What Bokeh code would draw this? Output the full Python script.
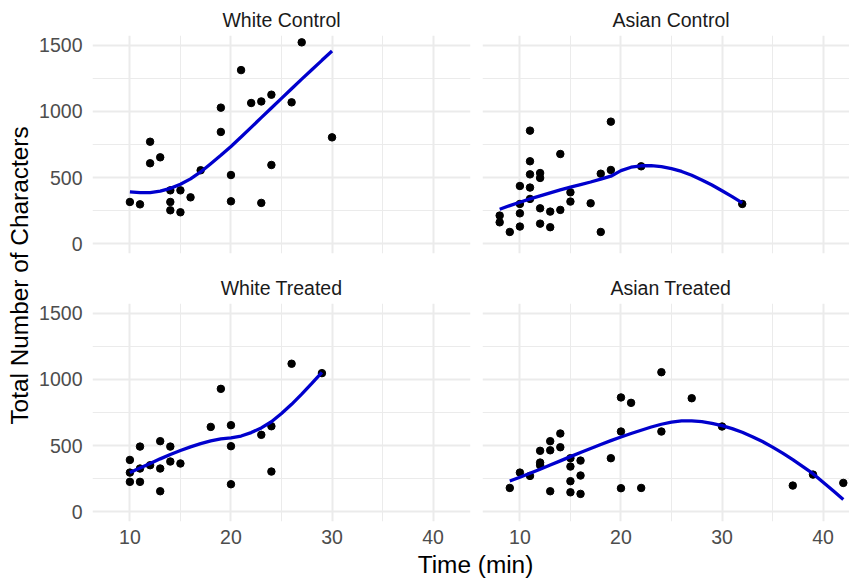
import math
from bokeh.plotting import figure
from bokeh.layouts import row, column
from bokeh.models import Range1d, Grid, FixedTicker, Label
from bokeh.embed import file_html
from bokeh.resources import INLINE

# ---------------- data ----------------
panel_names = ["White Control", "Asian Control", "White Treated", "Asian Treated"]

wc_time = [10, 11, 12, 12, 13, 14, 14, 14, 15, 15, 16, 17, 19, 19, 20, 20, 21, 22, 23, 23, 24, 24, 26, 27, 30]
wc_chars = [315, 297, 771, 608, 653, 403, 315, 252, 403, 237, 350, 555, 1029, 845, 519, 320, 1313, 1064, 1076, 308, 1127, 595, 1069, 1523, 804]

ac_time = [8, 8, 9, 10, 10, 10, 10, 11, 11, 11, 11, 11, 12, 12, 12, 12, 13, 13, 14, 14, 15, 15, 17, 18, 18, 19, 19, 22, 32]
ac_chars = [212, 161, 88, 436, 300, 229, 129, 855, 623, 524, 424, 338, 534, 497, 267, 151, 242, 124, 678, 255, 388, 318, 305, 529, 88, 923, 557, 585, 300]

wt_time = [10, 10, 10, 11, 11, 11, 12, 13, 13, 13, 14, 14, 15, 18, 19, 20, 20, 20, 23, 24, 24, 26, 29]
wt_chars = [391, 295, 225, 492, 326, 225, 351, 533, 326, 154, 492, 379, 364, 641, 929, 654, 495, 207, 581, 646, 303, 1119, 1048]

at_time = [9, 10, 11, 12, 12, 12, 13, 13, 13, 14, 14, 15, 15, 15, 15, 16, 16, 16, 19, 20, 20, 20, 21, 22, 24, 24, 27, 30, 37, 39, 42]
at_chars = [179, 295, 270, 460, 371, 351, 533, 464, 154, 591, 487, 404, 341, 230, 146, 386, 273, 134, 404, 864, 606, 177, 823, 179, 1055, 606, 858, 644, 197, 280, 217]

# smoothed (loess) curves
wc_fit_time = [10, 11, 12, 13, 14, 15, 16, 17, 18, 19, 20, 21, 22, 23, 24, 25, 26, 27, 28, 29, 30]
wc_fit_chars = [391, 386, 386, 397, 418, 449, 490, 542, 605, 668, 735, 807, 880, 953, 1026, 1099, 1172, 1245, 1316, 1387, 1457]

ac_fit_time = [8, 9, 10, 11, 12, 13, 14, 15, 16, 17, 18, 19, 20, 21, 22, 23, 24, 25, 26, 27, 28, 29, 30, 31, 32]
ac_fit_chars = [260, 287, 313, 338, 361, 384, 406, 427, 447, 466, 488, 510, 552, 578, 589, 590, 583, 568, 546, 517, 482, 443, 400, 355, 308]

wt_fit_time = [10, 11, 12, 13, 14, 15, 16, 17, 18, 19, 20, 21, 22, 23, 24, 25, 26, 27, 28, 29]
wt_fit_chars = [295, 330, 364, 399, 432, 462, 490, 514, 535, 551, 558, 572, 598, 633, 680, 742, 812, 889, 970, 1053]

at_fit_time = [9, 10, 11, 12, 13, 14, 15, 16, 17, 18, 19, 20, 21, 22, 23, 24, 25, 26, 27, 28, 29, 30, 31, 32, 33, 34, 35, 36, 37, 38, 39, 40, 41, 42]
at_fit_chars = [232, 260, 290, 320, 352, 384, 416, 447, 478, 508, 537, 565, 591, 616, 640, 661, 677, 686, 687, 681, 668, 651, 628, 600, 567, 530, 488, 442, 393, 341, 287, 222, 157, 92]

x_major = [10, 20, 30, 40]
x_minor = [15, 25, 35]
y_major = [0, 500, 1000, 1500]
y_minor = [250, 750, 1250]

# ---------------- style ----------------
FONT = "Liberation Sans"
GRID = "#EBEBEB"
LINE = "#0000CD"
X0, X1 = 6.3, 43.7
Y0, Y1 = -75, 1575
YLAB_W = 36
FRAME_W = 378
FRAME_W_RIGHT = 367   # right column is cut by the window edge
X1_RIGHT = X0 + FRAME_W_RIGHT * (X1 - X0) / FRAME_W
STRIP_PX = 19.5
# horizontal position (from frame left) of the right-column strip texts,
# centred on the full facet width as in the reference
RIGHT_STRIP_LEFT = {"Asian Control": 130, "Asian Treated": 128}


def make_panel(name, xs, ys, fx, fy, left, bottom):
    w = (62 - (YLAB_W - 30)) + FRAME_W + 6 if left else 6 + FRAME_W_RIGHT
    top_b = 35
    bot_b = 15 if not bottom else 28
    h = top_b + 218 + bot_b
    p = figure(width=w, height=h,
               x_range=Range1d(X0, X1 if left else X1_RIGHT),
               y_range=Range1d(Y0, Y1),
               x_axis_location="below" if bottom else None,
               y_axis_location="left" if left else None,
               output_backend="svg", toolbar_location=None,
               min_border_left=(62 - (YLAB_W - 30)) if left else 6,
               min_border_right=6 if left else 0,
               min_border_top=top_b, min_border_bottom=bot_b)
    p.outline_line_color = None
    p.background_fill_color = "white"
    p.border_fill_color = "white"
    p.center = []
    xt = FixedTicker(ticks=x_major, minor_ticks=x_minor)
    yt = FixedTicker(ticks=y_major, minor_ticks=y_minor)
    for dim, t in ((0, xt), (1, yt)):
        g = Grid(dimension=dim, ticker=t,
                 grid_line_color=GRID, grid_line_width=2,
                 minor_grid_line_color=GRID, minor_grid_line_width=1)
        p.add_layout(g, "center")
    for ax in p.axis:
        ax.axis_line_color = None
        ax.major_tick_line_color = None
        ax.minor_tick_line_color = None
        ax.major_tick_in = 0
        ax.major_tick_out = 0
        ax.minor_tick_in = 0
        ax.minor_tick_out = 0
        ax.major_label_text_font = FONT
        ax.major_label_text_font_size = "19.5px"
        ax.major_label_text_color = "#4D4D4D"
    if left:
        p.yaxis.ticker = FixedTicker(ticks=y_major)
        p.yaxis.major_label_standoff = 10
    if bottom:
        p.xaxis.ticker = FixedTicker(ticks=x_major)
        p.xaxis.major_label_standoff = 8

    p.scatter(xs, ys, size=7.5, color="black")
    p.line(fx, fy, line_color=LINE, line_width=3.3)

    p.title.text = name
    p.title.text_font = FONT
    p.title.text_font_size = f"{STRIP_PX}px"
    p.title.text_font_style = "normal"
    p.title.text_color = "#1A1A1A"
    p.title.standoff = 10
    if left:
        p.title.align = "center"
    else:
        p.title.align = "left"
        p.title.offset = RIGHT_STRIP_LEFT[name]
    return p


p1 = make_panel(panel_names[0], wc_time, wc_chars, wc_fit_time, wc_fit_chars, True, False)
p2 = make_panel(panel_names[1], ac_time, ac_chars, ac_fit_time, ac_fit_chars, False, False)
p3 = make_panel(panel_names[2], wt_time, wt_chars, wt_fit_time, wt_fit_chars, True, True)
p4 = make_panel(panel_names[3], at_time, at_chars, at_fit_time, at_fit_chars, False, True)

# shared axis titles
ylab = figure(width=YLAB_W, height=579, x_range=Range1d(0, 1), y_range=Range1d(0, 1),
              x_axis_location=None, y_axis_location=None,
              output_backend="svg", toolbar_location=None,
              min_border=0)
ylab.outline_line_color = None
ylab.center = []
ylab.add_layout(Label(x=18.5 / YLAB_W, y=1 - 275 / 579, text="Total Number of Characters",
                      angle=math.pi / 2, text_align="center", text_baseline="middle",
                      text_font=FONT, text_font_size="24.4px", text_color="black"))

xlab = figure(width=849 - YLAB_W, height=30, x_range=Range1d(0, 1), y_range=Range1d(0, 1),
              x_axis_location=None, y_axis_location=None,
              output_backend="svg", toolbar_location=None,
              min_border=0)
xlab.outline_line_color = None
xlab.center = []
xlab.add_layout(Label(x=(475 - YLAB_W) / (849 - YLAB_W), y=0.5, text="Time (min)",
                      text_align="center", text_baseline="middle",
                      text_font=FONT, text_font_size="24.4px", text_color="black"))

layout = row(ylab, column(row(p1, p2), row(p3, p4), xlab))

open("out.html", "w").write(file_html(layout, INLINE))
